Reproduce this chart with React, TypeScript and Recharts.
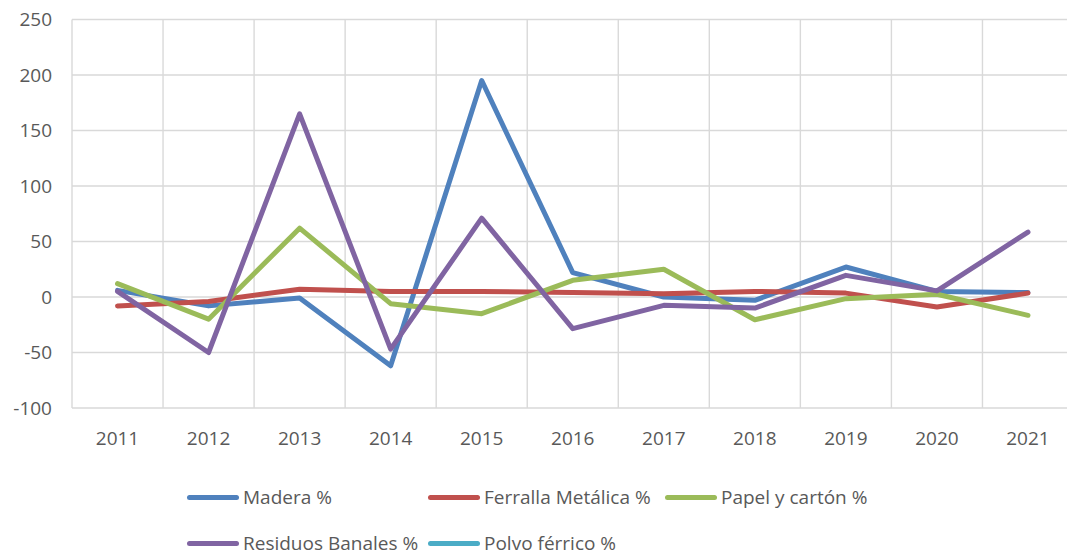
import React from 'react';
import { LineChart, Line, XAxis, YAxis, CartesianGrid, ReferenceLine } from 'recharts';

const years = [2011, 2012, 2013, 2014, 2015, 2016, 2017, 2018, 2019, 2020, 2021];
const madera = [6, -8, -1, -62, 195, 22, 0, -3, 27, 5, 4];
const ferralla = [-8, -4, 7, 5, 5, 4, 3, 5, 3.5, -9, 3.5];
const papel = [12, -20, 62, -6, -15, 15, 25, -20.5, -1.5, 2.5, -16.5];
const residuos = [5, -50, 165, -47, 71, -28.5, -7.5, -10, 19.5, 5.5, 58.5];
const polvo: (number | null)[] = [null, null, null, null, null, null, null, null, null, null, null];
const yTicks = [-100, -50, 0, 50, 100, 150, 200, 250];

const seriesDefs = [
  { key: 'madera', name: 'Madera %', color: '#4F81BD', values: madera },
  { key: 'ferralla', name: 'Ferralla Metálica %', color: '#C0504D', values: ferralla },
  { key: 'papel', name: 'Papel y cartón %', color: '#9BBB59', values: papel },
  { key: 'residuos', name: 'Residuos Banales %', color: '#8064A2', values: residuos },
  { key: 'polvo', name: 'Polvo férrico %', color: '#4BACC6', values: polvo },
];

const data = years.map((y, i) => {
  const row: Record<string, number | null> = { year: y };
  seriesDefs.forEach((s) => {
    row[s.key] = s.values[i];
  });
  return row;
});

const boundaries = [years[0] - 0.5, ...years.map((y) => y + 0.5)];

const FONT = '"Open Sans", sans-serif';
const TEXT = '#595959';

const ChartLegend = () => (
  <div
    style={{
      position: 'absolute',
      left: 187,
      top: 474,
      display: 'grid',
      gridTemplateColumns: '241px 237px auto',
      fontFamily: FONT,
      fontSize: 19,
      color: TEXT,
    }}
  >
    {seriesDefs.map((s) => (
      <div key={s.key} style={{ display: 'flex', alignItems: 'center', height: 46, whiteSpace: 'nowrap' }}>
        <div style={{ width: 52, height: 5, borderRadius: 3, background: s.color, marginRight: 4 }} />
        <span>{s.name}</span>
      </div>
    ))}
  </div>
);

export default function App() {
  return (
    <div style={{ position: 'absolute', left: 0, top: 0, width: 1067, height: 555, overflow: 'hidden', background: '#fff' }}>
      <LineChart
        width={1080}
        height={555}
        data={data}
        margin={{ top: 19.5, right: 6.5, left: 0, bottom: 117 }}
        style={{ fontFamily: FONT }}
      >
        <CartesianGrid vertical={false} stroke="#d9d9d9" strokeWidth={1.4} />
        {boundaries.map((b) => (
          <ReferenceLine key={b} x={b} stroke="#d9d9d9" strokeWidth={1.4} />
        ))}
        <XAxis
          dataKey="year"
          type="number"
          domain={[years[0] - 0.5, years[years.length - 1] + 0.5]}
          ticks={years}
          height={30}
          axisLine={false}
          tickLine={false}
          tickSize={0}
          tickMargin={24}
          tick={{ fill: TEXT, fontSize: 19, fontFamily: FONT }}
          interval={0}
        />
        <YAxis
          domain={[-100, 250]}
          ticks={yTicks}
          width={72}
          axisLine={false}
          tickLine={false}
          tickSize={0}
          tickMargin={20}
          tick={{ fill: TEXT, fontSize: 19, fontFamily: FONT }}
          interval={0}
        />
        {seriesDefs.map((s) => (
          <Line
            key={s.key}
            dataKey={s.key}
            name={s.name}
            stroke={s.color}
            strokeWidth={5}
            dot={false}
            activeDot={false}
            strokeLinejoin="round"
            strokeLinecap="round"
            isAnimationActive={false}
          />
        ))}
      </LineChart>
      <ChartLegend />
    </div>
  );
}
